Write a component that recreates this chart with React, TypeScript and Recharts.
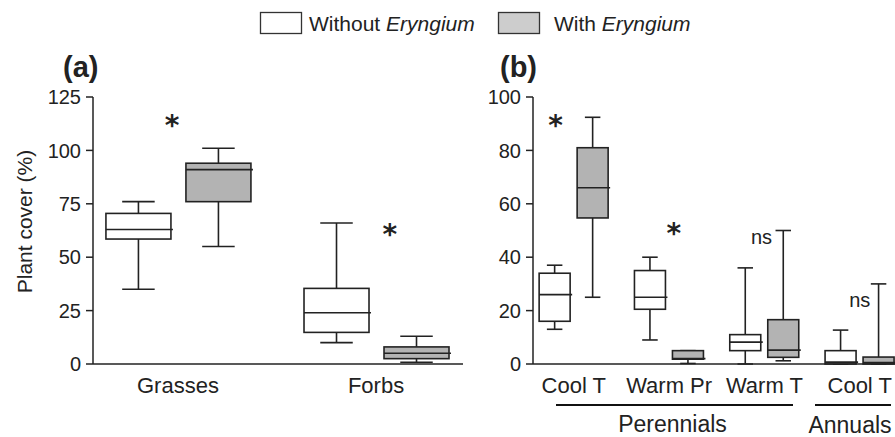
import { ComposedChart, Bar, XAxis, YAxis, ReferenceDot } from 'recharts';

const FONT = '"Liberation Sans", Arial, Helvetica, sans-serif';
const INK = '#222';
const GREY = '#b3b3b3';

// box stats are [min, q1, median, q3, max]

// Panel (a)
const groupsA = ['Grasses', 'Forbs'];
const withoutA = [
  [35, 58.5, 63, 70.5, 76],
  [10, 14.8, 24, 35.4, 66],
];
const withA = [
  [55, 76, 91, 94, 101],
  [0.8, 2.5, 5, 8, 13],
];
const ticksA = [0, 25, 50, 75, 100, 125];
const marksA = [
  { pos: -0.03, value: 115, text: '*' },
  { pos: 1.07, value: 64, text: '*' },
];

// Panel (b)
const groupsB = ['Cool T', 'Warm Pr', 'Warm T', 'Cool T'];
const withoutB = [
  [13, 16, 26, 34, 37],
  [9, 20.5, 25, 35, 40],
  [0, 5, 8.2, 11, 36],
  [0, 0, 0.7, 5, 12.7],
];
const withB = [
  [25, 54.7, 66, 81, 92.4],
  [0.2, 1.8, 2, 5, 5],
  [1.2, 2.5, 5.2, 16.6, 50],
  [0, 0, 0.5, 2.6, 30],
];
const ticksB = [0, 20, 40, 60, 80, 100];
const marksB = [
  { pos: -0.19, value: 92, text: '*' },
  { pos: 1.05, value: 51.7, text: '*' },
  { pos: 1.97, value: 47, text: 'ns' },
  { pos: 3.0, value: 23.2, text: 'ns' },
];

function toRows(groups: string[], without: number[][], withE: number[][]) {
  return groups.map((name, i) => ({
    pos: i,
    name,
    without: [without[i][0], without[i][4]],
    withE: [withE[i][0], withE[i][4]],
    withoutStats: without[i],
    withEStats: withE[i],
  }));
}

function makeBox(statsKey: string, fill: string) {
  return (props: any) => {
    const { x, y, width, height, payload } = props;
    const [mn, q1, md, q3, mx] = payload[statsKey];
    const top = Math.min(y, y + height);
    const bottom = Math.max(y, y + height);
    const py = (v: number) => bottom - ((bottom - top) * (v - mn)) / (mx - mn);
    const cx = x + width / 2;
    const cap = width / 4;
    return (
      <g stroke={INK} strokeWidth={1.6}>
        <line x1={cx} x2={cx} y1={py(mx)} y2={py(q3)} />
        <line x1={cx} x2={cx} y1={py(q1)} y2={py(mn)} />
        <line x1={cx - cap} x2={cx + cap} y1={py(mx)} y2={py(mx)} />
        <line x1={cx - cap} x2={cx + cap} y1={py(mn)} y2={py(mn)} />
        <rect x={x} y={py(q3)} width={width} height={py(q1) - py(q3)} fill={fill} />
        <line x1={x} x2={x + width + 2} y1={py(md)} y2={py(md)} />
      </g>
    );
  };
}

const markShape = (text: string) => (p: any) => {
  const star = text === '*';
  const fs = star ? 28 : 20;
  return (
    <text
      x={p.cx}
      y={p.cy + (star ? fs * 0.6 : fs * 0.27)}
      textAnchor="middle"
      fontSize={fs}
      fontWeight={star ? 'bold' : 'normal'}
      fontFamily={star ? '"DejaVu Sans", sans-serif' : FONT}
      fill={INK}
    >
      {text}
    </text>
  );
};

function Panel({ groups, without, withE, ticks, marks, domainX, barSize, barGap }: any) {
  const rows = toRows(groups, without, withE);
  return (
    <ComposedChart
      width={470}
      height={437}
      data={rows}
      margin={{ top: 97, right: 7, bottom: 27, left: 0 }}
      barGap={barGap}
    >
      <XAxis
        type="number"
        dataKey="pos"
        domain={domainX}
        allowDataOverflow
        ticks={groups.map((_: string, i: number) => i)}
        tickFormatter={(v: number) => groups[v]}
        tickLine={false}
        tickMargin={7}
        height={46}
        axisLine={{ stroke: INK, strokeWidth: 1.5 }}
        tick={{ fill: INK, fontSize: 22, fontFamily: FONT }}
      />
      <YAxis
        type="number"
        domain={[ticks[0], ticks[ticks.length - 1]]}
        ticks={ticks}
        width={93}
        tickSize={7}
        tickMargin={5}
        axisLine={{ stroke: INK, strokeWidth: 1.5 }}
        tickLine={{ stroke: INK, strokeWidth: 1.5 }}
        tick={{ fill: INK, fontSize: 20, fontFamily: FONT }}
      />
      <Bar dataKey="without" barSize={barSize} shape={makeBox('withoutStats', '#fff')} isAnimationActive={false} />
      <Bar dataKey="withE" barSize={barSize} shape={makeBox('withEStats', GREY)} isAnimationActive={false} />
      {marks.map((m: any, i: number) => (
        <ReferenceDot key={i} x={m.pos} y={m.value} r={1} ifOverflow="visible" shape={markShape(m.text)} />
      ))}
    </ComposedChart>
  );
}

export default function App() {
  return (
    <div style={{ position: 'absolute', left: 0, top: 0, width: 895, height: 437, overflow: 'hidden', background: '#fff' }}>
      <div style={{ position: 'absolute', left: 0, top: 0 }}>
        <Panel
          groups={groupsA}
          without={withoutA}
          withE={withA}
          ticks={ticksA}
          marks={marksA}
          domainX={[-0.429, 1.439]}
          barSize={65}
          barGap={15}
        />
      </div>
      <div style={{ position: 'absolute', left: 440, top: 0 }}>
        <Panel
          groups={groupsB}
          without={withoutB}
          withE={withB}
          ticks={ticksB}
          marks={marksB}
          domainX={[-0.428, 3.454]}
          barSize={31}
          barGap={7}
        />
      </div>
      <svg width={895} height={437} style={{ position: 'absolute', left: 0, top: 0, pointerEvents: 'none' }} fontFamily={FONT} fill={INK}>
        <rect x={260.5} y={12.5} width={41} height={21} fill="#fff" stroke="#333" strokeWidth={1.3} />
        <text x={309} y={31} fontSize={21}>
          Without <tspan fontStyle="italic">Eryngium</tspan>
        </text>
        <rect x={498.5} y={12.5} width={41} height={21} fill="#cdcdcd" stroke="#333" strokeWidth={1.3} />
        <text x={554} y={31} fontSize={21}>
          With <tspan fontStyle="italic">Eryngium</tspan>
        </text>
        <text x={63} y={77} fontSize={29} fontWeight="bold">(a)</text>
        <text x={500} y={77} fontSize={29} fontWeight="bold">(b)</text>
        <text x={32} y={221.5} fontSize={21} textAnchor="middle" transform="rotate(-90 32 221.5)">
          Plant cover (%)
        </text>
        <line x1={556} x2={793} y1={405} y2={405} stroke="#111" strokeWidth={2.2} />
        <line x1={815} x2={891} y1={405} y2={405} stroke="#111" strokeWidth={2.2} />
        <text x={672.5} y={432} fontSize={23} textAnchor="middle">Perennials</text>
        <text x={850} y={433} fontSize={23} textAnchor="middle">Annuals</text>
      </svg>
    </div>
  );
}
